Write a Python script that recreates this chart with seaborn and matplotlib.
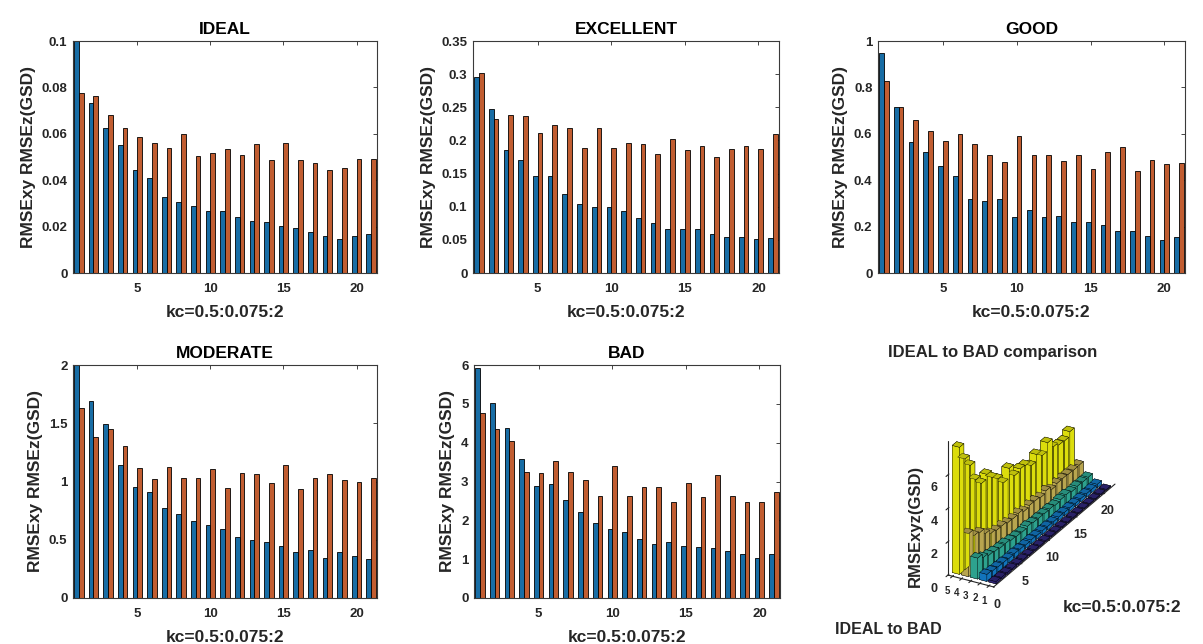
import numpy as np
import pandas as pd
import seaborn as sns
import matplotlib.pyplot as plt
from matplotlib.ticker import FuncFormatter

# ------------------------------- DATA ------------------------------- #

# kc = 0.5:0.075:2  ->  21 steps
kc_idx = list(range(1, 22))

ideal_xy = [0.100, 0.0731, 0.0623, 0.0552, 0.0444, 0.0408, 0.0327, 0.0308, 0.0287, 0.0269, 0.0269,
            0.0241, 0.0224, 0.0218, 0.0203, 0.0192, 0.0176, 0.0160, 0.0148, 0.0158, 0.0166]
ideal_z = [0.0777, 0.0762, 0.0680, 0.0623, 0.0587, 0.0562, 0.0540, 0.0597, 0.0506, 0.0519, 0.0534,
           0.0510, 0.0557, 0.0487, 0.0562, 0.0487, 0.0476, 0.0444, 0.0451, 0.0490, 0.0493]

excellent_xy = [0.295, 0.247, 0.186, 0.170, 0.146, 0.146, 0.119, 0.104, 0.099, 0.100, 0.094,
                0.083, 0.075, 0.067, 0.067, 0.067, 0.059, 0.055, 0.054, 0.051, 0.053]
excellent_z = [0.301, 0.232, 0.238, 0.237, 0.211, 0.224, 0.219, 0.189, 0.219, 0.189, 0.196,
               0.194, 0.179, 0.202, 0.186, 0.191, 0.175, 0.187, 0.191, 0.187, 0.210]

good_xy = [0.949, 0.717, 0.563, 0.521, 0.460, 0.420, 0.320, 0.311, 0.317, 0.243, 0.271,
           0.240, 0.246, 0.220, 0.220, 0.206, 0.183, 0.179, 0.160, 0.143, 0.154]
good_z = [0.827, 0.717, 0.660, 0.610, 0.570, 0.599, 0.556, 0.507, 0.477, 0.591, 0.507,
          0.507, 0.484, 0.507, 0.450, 0.521, 0.541, 0.439, 0.489, 0.470, 0.474]

moderate_xy = [2.000, 1.694, 1.494, 1.140, 0.957, 0.906, 0.769, 0.717, 0.663, 0.629, 0.594,
               0.526, 0.500, 0.480, 0.446, 0.391, 0.409, 0.346, 0.397, 0.363, 0.337]
moderate_z = [1.634, 1.380, 1.449, 1.306, 1.117, 1.023, 1.123, 1.034, 1.034, 1.106, 0.943,
              1.071, 1.063, 0.991, 1.140, 0.937, 1.034, 1.063, 1.011, 1.000, 1.029]

bad_xy = [5.93, 5.01, 4.39, 3.59, 2.89, 2.93, 2.53, 2.22, 1.93, 1.78, 1.69,
          1.53, 1.38, 1.44, 1.34, 1.32, 1.29, 1.20, 1.13, 1.04, 1.13]
bad_z = [4.77, 4.35, 4.04, 3.25, 3.22, 3.53, 3.25, 3.03, 2.62, 3.39, 2.62,
         2.86, 2.85, 2.48, 2.97, 2.61, 3.16, 2.62, 2.46, 2.46, 2.73]

# RMSExyz(GSD) for the 3D comparison
ideal_xyz = [0.127, 0.106, 0.092, 0.083, 0.074, 0.069, 0.063, 0.067, 0.058, 0.059, 0.060,
             0.056, 0.060, 0.053, 0.060, 0.052, 0.051, 0.047, 0.048, 0.052, 0.052]
excellent_xyz = [0.421, 0.339, 0.302, 0.291, 0.257, 0.267, 0.249, 0.216, 0.240, 0.214, 0.217,
                 0.211, 0.194, 0.212, 0.198, 0.202, 0.184, 0.195, 0.198, 0.194, 0.216]
good_xyz = [1.259, 1.014, 0.868, 0.802, 0.732, 0.732, 0.641, 0.595, 0.573, 0.639, 0.575,
            0.561, 0.543, 0.553, 0.501, 0.560, 0.571, 0.474, 0.514, 0.491, 0.498]
moderate_xyz = [2.583, 2.185, 2.081, 1.734, 1.471, 1.366, 1.361, 1.258, 1.228, 1.272, 1.114,
                1.193, 1.175, 1.101, 1.224, 1.015, 1.112, 1.118, 1.086, 1.064, 1.083]
bad_xyz = [7.61, 6.63, 5.97, 4.84, 4.33, 4.59, 4.12, 3.76, 3.25, 3.83, 3.12,
           3.24, 3.17, 2.87, 3.26, 2.92, 3.41, 2.88, 2.71, 2.67, 2.95]

conditions = ['IDEAL', 'EXCELLENT', 'GOOD', 'MODERATE', 'BAD']
x_label = 'kc=0.5:0.075:2'
y_label = 'RMSExy RMSEz(GSD)'

# matlab colours
BLUE = '#0072BD'
ORANGE = '#D95319'
PARULA5 = [(0.2081, 0.1663, 0.5292), (0.0795, 0.5147, 0.8328), (0.1986, 0.7214, 0.6310),
           (0.8185, 0.7327, 0.3498), (0.9763, 0.9831, 0.0538)]

# ------------------------------- STYLE ------------------------------- #

sns.set_style('white')
plt.rcParams['font.family'] = ['Liberation Sans', 'DejaVu Sans']
plt.rcParams['font.weight'] = 'bold'
plt.rcParams['axes.labelweight'] = 'bold'
plt.rcParams['axes.titleweight'] = 'bold'
TXT = '#262626'


def barplot(ax, xy, z, title, ymax, ystep):
    df = pd.DataFrame({'kc': kc_idx * 2,
                       'rmse': xy + z,
                       'series': ['RMSExy'] * len(xy) + ['RMSEz'] * len(z)})
    sns.barplot(data=df, x='kc', y='rmse', hue='series', native_scale=True,
                palette=[BLUE, ORANGE], width=0.64, edgecolor='black', linewidth=0.6,
                errorbar=None, legend=False, ax=ax)
    ax.set_xlim(0.6, 21.4)
    ax.set_ylim(0, ymax)
    ax.set_xticks([5, 10, 15, 20])
    ax.set_yticks(np.arange(0, ymax + ystep / 2, ystep))
    ax.yaxis.set_major_formatter(FuncFormatter(lambda v, p: '%g' % round(v, 4)))
    ax.tick_params(direction='in', top=True, right=True, length=3, width=0.6,
                   labelsize=9.5, colors=TXT, pad=4)
    ax.tick_params(axis='x', pad=7.5)
    for s in ax.spines.values():
        s.set_color('#3a3a3a')
        s.set_linewidth(0.8)
    ax.set_title(title, fontsize=12.5, pad=5, color='black')
    ax.set_xlabel(x_label, fontsize=12.5, color=TXT, labelpad=7)
    ax.set_ylabel(y_label, fontsize=12.5, color=TXT, labelpad=4)


fig = plt.figure(figsize=(12.03, 6.44), dpi=100)

# panel positions in the figure
W, H = 1203, 644
boxes = [(73, 41, 304, 232), (473, 41, 306, 232), (878, 41, 307, 232),
         (73, 365, 304, 233), (474, 365, 306, 233)]
data = [(ideal_xy, ideal_z), (excellent_xy, excellent_z), (good_xy, good_z),
        (moderate_xy, moderate_z), (bad_xy, bad_z)]
limits = [(0.1, 0.02), (0.35, 0.05), (1, 0.2), (2, 0.5), (6, 1)]

for (l, t, w, h), (xy, z), name, (ymax, ystep) in zip(boxes, data, conditions, limits):
    ax = fig.add_axes([l / W, 1 - (t + h) / H, w / W, h / H])
    barplot(ax, xy, z, name, ymax, ystep)

# ----------------------------- 3D panel ----------------------------- #

ax3 = fig.add_axes([888 / W, 0.076, 280 / W, 0.40], projection='3d')
ax3.set_proj_type('ortho')

xyz = [ideal_xyz, excellent_xyz, good_xyz, moderate_xyz, bad_xyz]
rows = np.repeat(np.arange(1, len(xyz) + 1), len(kc_idx))
cols = np.tile(kc_idx, len(xyz))
heights = np.concatenate(xyz)
bar_colors = np.repeat(np.array(PARULA5), len(kc_idx), axis=0)

ax3.bar3d(rows - 0.4, cols - 0.4, np.zeros_like(heights), 0.8, 0.8, heights,
          color=bar_colors, edgecolor='black', linewidth=0.25, shade=True)

ax3.set_xlim(5.5, 0.5)
ax3.set_ylim(0, 22)
ax3.set_zlim(0, 8)
ax3.set_xticks([1, 2, 3, 4, 5])
ax3.set_yticks([0, 5, 10, 15, 20])
ax3.set_zticks([0, 2, 4, 6])
ax3.set_box_aspect((1, 4.8, 2.9), zoom=1.12)
ax3.view_init(elev=28, azim=-61)
ax3.grid(False)
for a in (ax3.xaxis, ax3.yaxis, ax3.zaxis):
    a.set_pane_color((1, 1, 1, 0))
    a.pane.set_edgecolor((1, 1, 1, 0))
ax3.zaxis.set_ticks_position('lower')
ax3.zaxis.set_label_position('lower')
ax3.tick_params(labelsize=9, colors=TXT, pad=0)
ax3.tick_params(axis='x', labelsize=7, pad=-4)
ax3.set_zlabel('RMSExyz(GSD)', fontsize=12, color=TXT, labelpad=-2)

fig.text(993 / W, 1 - 352 / H, 'IDEAL to BAD comparison', ha='center', va='center',
         fontsize=12, fontweight='bold')
fig.text(835 / W, 1 - 630 / H, 'IDEAL to BAD', ha='left', va='center',
         fontsize=11.5, fontweight='bold', color=TXT)
fig.text(1122 / W, 1 - 608 / H, x_label, ha='center', va='center',
         fontsize=12.5, fontweight='bold', color=TXT)

fig.savefig('out.png', dpi=100)
